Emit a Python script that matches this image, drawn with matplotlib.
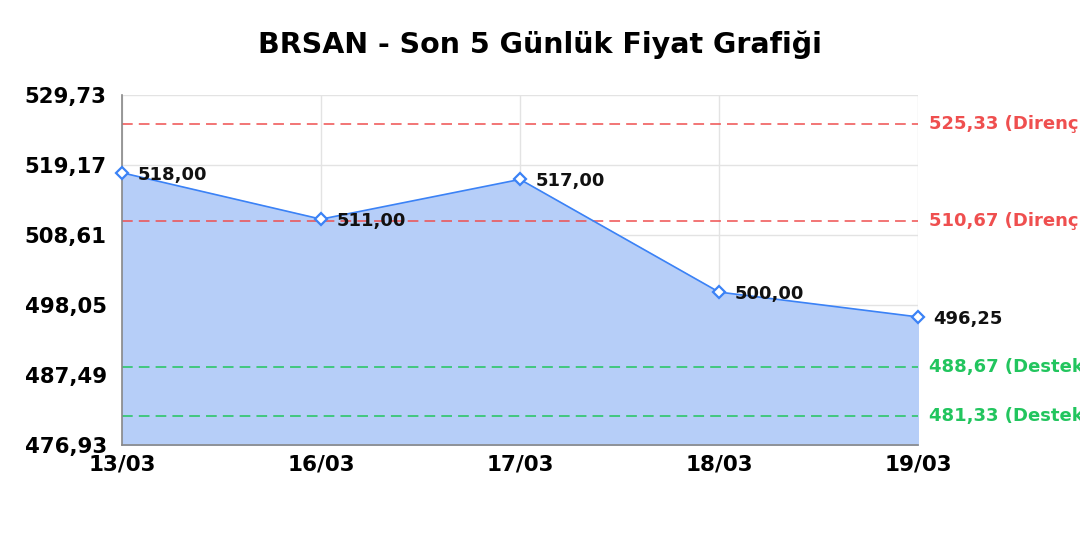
import matplotlib
matplotlib.use("Agg")
import matplotlib.pyplot as plt
import numpy as np

plt.rcParams['font.family'] = ['DejaVu Sans']

dates = ['13/03', '16/03', '17/03', '18/03', '19/03']
prices = [518.00, 511.00, 517.00, 500.00, 496.25]
resistance = [525.33, 510.67]
support = [488.67, 481.33]
y_ticks = [476.93, 487.49, 498.05, 508.61, 519.17, 529.73]

blue = '#3b82f6'
red = '#ef4f4f'
green = '#22c55e'

fig = plt.figure(figsize=(10.8, 5.4), dpi=100)
ax = fig.add_axes([0.113, 0.176, 0.737, 0.648])

x = np.arange(len(dates))
ax.fill_between(x, prices, y_ticks[0], color='#b6cef8', zorder=1)
ax.plot(x, prices, color=blue, lw=1.2, zorder=3)
ax.plot(x, prices, ls='none', marker='D', ms=6, mfc='white', mec=blue, mew=1.6,
        zorder=4, clip_on=False)

for xi, p in zip(x, prices):
    ax.annotate(f'{p:.2f}'.replace('.', ','), (xi, p), xytext=(11, -1.5),
                textcoords='offset points', ha='left', va='center',
                fontsize=13, fontweight='bold', color='#111111', zorder=5)

for lvl in resistance:
    ax.axhline(lvl, color=red, ls=(0, (7, 4)), lw=1.1, zorder=2)
    ax.annotate(f'{lvl:.2f}'.replace('.', ',') + ' (Direnç)', (1, lvl),
                xycoords=('axes fraction', 'data'), xytext=(8, 0),
                textcoords='offset points', ha='left', va='center',
                fontsize=13, fontweight='bold', color=red, annotation_clip=False)
for lvl in support:
    ax.axhline(lvl, color=green, ls=(0, (7, 4)), lw=1.1, zorder=2)
    ax.annotate(f'{lvl:.2f}'.replace('.', ',') + ' (Destek)', (1, lvl),
                xycoords=('axes fraction', 'data'), xytext=(8, 0),
                textcoords='offset points', ha='left', va='center',
                fontsize=13, fontweight='bold', color=green, annotation_clip=False)

ax.set_xlim(0, len(dates) - 1)
ax.set_ylim(y_ticks[0], y_ticks[-1])
ax.set_xticks(x)
ax.set_xticklabels(dates, fontsize=15.5, fontweight='bold')
ax.set_yticks(y_ticks)
ax.set_yticklabels([f'{v:.2f}'.replace('.', ',') for v in y_ticks],
                   fontsize=15.3, fontweight='bold')
ax.tick_params(axis='y', length=0, pad=11)
ax.tick_params(axis='x', length=0, pad=7)
ax.grid(True, color='#e3e3e3', lw=1, zorder=0)
ax.set_axisbelow(True)
for s in ['top', 'right']:
    ax.spines[s].set_visible(False)
for s in ['left', 'bottom']:
    ax.spines[s].set_color('#888888')
    ax.spines[s].set_linewidth(1.2)

fig.text(0.5, 0.918, 'BRSAN - Son 5 Günlük Fiyat Grafiği', ha='center', va='center',
         fontsize=20.5, fontweight='bold')

fig.savefig('out.png', dpi=100)
